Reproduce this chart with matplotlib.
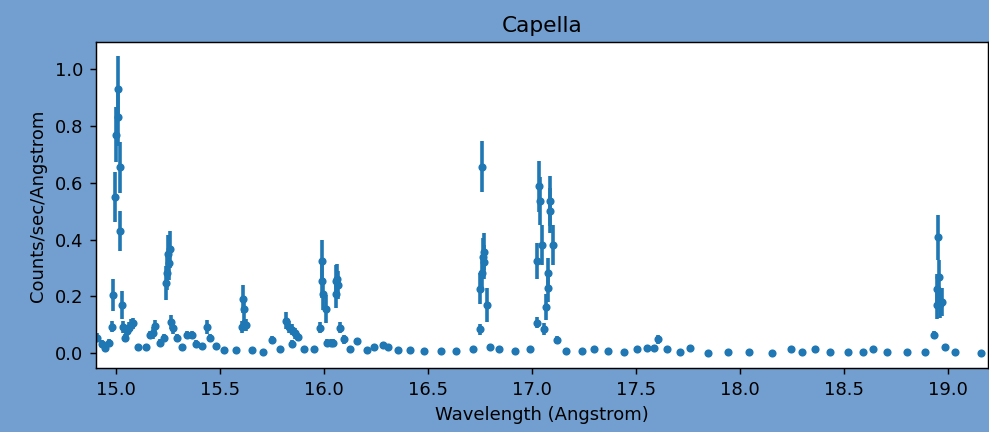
import matplotlib
matplotlib.use("Agg")
import matplotlib.pyplot as plt

# wavelength (Angstrom), rate (counts/sec/Angstrom) and its error
wavelength = [
    14.906, 14.930, 14.946, 14.966, 14.978, 14.986, 14.995, 14.997, 15.008, 15.010,
    15.018, 15.020, 15.027, 15.033, 15.042, 15.050, 15.060, 15.070, 15.080, 15.106,
    15.143, 15.162, 15.175, 15.186, 15.210, 15.229, 15.239, 15.245, 15.250, 15.252,
    15.258, 15.264, 15.274, 15.293, 15.314, 15.341, 15.362, 15.383, 15.410, 15.438,
    15.450, 15.479, 15.519, 15.575, 15.606, 15.610, 15.612, 15.616, 15.622, 15.654,
    15.707, 15.747, 15.787, 15.816, 15.830, 15.845, 15.847, 15.857, 15.872, 15.902,
    15.950, 15.979, 15.989, 15.991, 15.994, 16.008, 16.014, 16.030, 16.040, 16.054,
    16.056, 16.062, 16.066, 16.075, 16.095, 16.124, 16.155, 16.203, 16.239, 16.280,
    16.308, 16.356, 16.412, 16.479, 16.559, 16.633, 16.713, 16.749, 16.750, 16.756,
    16.758, 16.764, 16.767, 16.770, 16.780, 16.795, 16.840, 16.918, 16.989, 17.021,
    17.022, 17.034, 17.035, 17.045, 17.056, 17.066, 17.074, 17.076, 17.085, 17.087,
    17.098, 17.117, 17.160, 17.240, 17.295, 17.365, 17.441, 17.501, 17.550, 17.585,
    17.606, 17.646, 17.710, 17.758, 17.846, 17.942, 18.042, 18.154, 18.242, 18.298,
    18.359, 18.431, 18.519, 18.588, 18.636, 18.703, 18.803, 18.886, 18.931, 18.944,
    18.948, 18.952, 18.953, 18.960, 18.970, 18.984, 19.032, 19.155,
]
rate = [
    0.055, 0.033, 0.018, 0.037, 0.094, 0.205, 0.551, 0.769, 0.931, 0.831,
    0.655, 0.431, 0.170, 0.092, 0.053, 0.080, 0.090, 0.100, 0.105, 0.021,
    0.021, 0.064, 0.072, 0.096, 0.037, 0.053, 0.246, 0.282, 0.350, 0.319,
    0.366, 0.111, 0.088, 0.053, 0.021, 0.064, 0.064, 0.033, 0.024, 0.092,
    0.053, 0.024, 0.012, 0.012, 0.092, 0.190, 0.155, 0.098, 0.100, 0.012,
    0.006, 0.047, 0.014, 0.115, 0.092, 0.083, 0.033, 0.070, 0.058, 0.014,
    0.014, 0.090, 0.325, 0.255, 0.209, 0.155, 0.037, 0.037, 0.037, 0.209,
    0.254, 0.260, 0.240, 0.090, 0.049, 0.014, 0.043, 0.012, 0.021, 0.028,
    0.021, 0.012, 0.012, 0.007, 0.007, 0.007, 0.014, 0.084, 0.227, 0.282,
    0.657, 0.340, 0.358, 0.320, 0.170, 0.021, 0.014, 0.008, 0.014, 0.108,
    0.326, 0.587, 0.536, 0.381, 0.085, 0.162, 0.229, 0.282, 0.536, 0.502,
    0.381, 0.047, 0.008, 0.008, 0.014, 0.008, 0.006, 0.014, 0.020, 0.020,
    0.049, 0.014, 0.006, 0.020, 0.000, 0.006, 0.006, 0.000, 0.014, 0.006,
    0.014, 0.006, 0.006, 0.006, 0.014, 0.006, 0.006, 0.006, 0.064, 0.225,
    0.170, 0.408, 0.268, 0.175, 0.180, 0.021, 0.006, 0.000,
]
rate_err = [
    0.015, 0.012, 0.010, 0.012, 0.020, 0.055, 0.088, 0.097, 0.114, 0.100,
    0.090, 0.070, 0.050, 0.020, 0.015, 0.020, 0.020, 0.020, 0.020, 0.010,
    0.010, 0.015, 0.020, 0.020, 0.012, 0.015, 0.060, 0.060, 0.065, 0.060,
    0.065, 0.025, 0.020, 0.015, 0.010, 0.015, 0.015, 0.012, 0.010, 0.025,
    0.015, 0.010, 0.008, 0.008, 0.020, 0.050, 0.045, 0.020, 0.020, 0.008,
    0.006, 0.015, 0.008, 0.030, 0.020, 0.020, 0.012, 0.020, 0.015, 0.008,
    0.008, 0.020, 0.075, 0.060, 0.055, 0.050, 0.012, 0.012, 0.012, 0.050,
    0.055, 0.055, 0.050, 0.020, 0.015, 0.008, 0.012, 0.008, 0.010, 0.010,
    0.010, 0.008, 0.008, 0.006, 0.006, 0.006, 0.008, 0.020, 0.055, 0.060,
    0.090, 0.065, 0.065, 0.060, 0.060, 0.010, 0.008, 0.006, 0.008, 0.020,
    0.063, 0.090, 0.085, 0.070, 0.020, 0.045, 0.050, 0.055, 0.088, 0.080,
    0.070, 0.015, 0.006, 0.006, 0.008, 0.006, 0.006, 0.008, 0.010, 0.010,
    0.015, 0.008, 0.006, 0.010, 0.005, 0.006, 0.006, 0.005, 0.008, 0.006,
    0.008, 0.006, 0.006, 0.006, 0.008, 0.006, 0.006, 0.006, 0.015, 0.055,
    0.050, 0.080, 0.060, 0.050, 0.050, 0.010, 0.006, 0.005,
]

fig = plt.figure(figsize=(989 / 130, 432 / 130), dpi=130, facecolor="#729fcf")
ax = fig.add_axes([0.0968, 0.147, 0.902, 0.755])
ax.errorbar(wavelength, rate, yerr=rate_err, fmt=".", color="C0",
            elinewidth=2.0, markersize=7)
ax.set_xlim(14.901, 19.19)
ax.set_ylim(-0.0535, 1.094)
ax.set_title("Capella")
ax.set_xlabel("Wavelength (Angstrom)")
ax.set_ylabel("Counts/sec/Angstrom")
fig.savefig("out.png", dpi=130, facecolor=fig.get_facecolor())
